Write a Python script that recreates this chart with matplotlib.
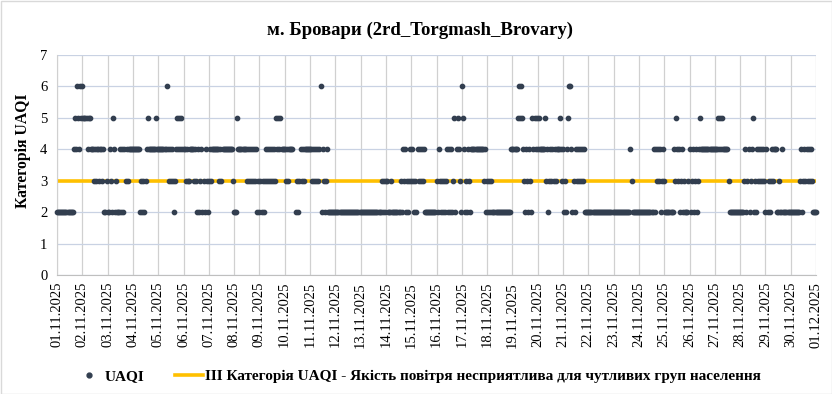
import numpy as np
import matplotlib
matplotlib.use("Agg")
import matplotlib.pyplot as plt
from matplotlib.lines import Line2D
from matplotlib.patches import Rectangle

# ---------------- data: hourly UAQI category per day (one char per hour, '.' = no data) ----------------
day_hourly_uaqi = [
    "222222222222222245465465",  # 01.11
    "655554554443434434434223",  # 02.11
    "224325423222424243434444",  # 03.11
    "444444423232345444444454",  # 04.11
    "444444446434343234545454",  # 05.11
    "443433444434324234232432",  # 06.11
    "343444444434344444444443",  # 07.11
    "222544444444343434343423",  # 08.11
    "232323434343434354545444",  # 09.11
    "43434444...2323434344444",  # 10.11
    "443434343462432342222222",  # 11.11
    "222222222222222222222222",  # 12.11
    "222222222222222222223232",  # 13.11
    "332223222222223243423234",  # 14.11
    "343232434343422222222222",  # 15.11
    "324323232342424235245432",  # 16.11
    "654232432444444444444342",  # 17.11
    "323232222222222222222224",  # 18.11
    "444445656543243243254545",  # 19.11
    "454444453423434343444543",  # 20.11
    "423245664232434343434222",  # 21.11
    "222222222222222222222222",  # 22.11
    "222222222222222243222222",  # 23.11
    "222222222222224243434234",  # 24.11
    "322222222435434234232223",  # 25.11
    "423423423454444444444444",  # 26.11
    "444545454444432222222222",  # 27.11
    "222234234234523243434343",  # 28.11
    "242323434442232242222222",  # 29.11
    "222222222342343434343222",  # 30.11
    "2",                         # 01.12 00:00
]
threshold_value = 3
day_labels = ["%02d.11.2025" % d for d in range(1, 31)] + ["01.12.2025"]

title_text = "м. Бровари (2rd_Torgmash_Brovary)"
ylabel_text = "Категорія UAQI"
series_label = "UAQI"
threshold_label = "III Категорія UAQI - Якість повітря несприятлива для чутливих груп населення"

# ---------------- expand into hourly series ----------------
uaqi = np.array([np.nan if c == '.' else float(c)
                 for day in day_hourly_uaqi for c in day])
hours = np.arange(len(uaqi))
total_hours = 24 * (len(day_labels) - 1)

# ---------------- plot ----------------
plt.rcParams['font.family'] = ['Liberation Serif', 'DejaVu Serif']
dot_color = '#323E4F'
line_color = '#FFC000'

fig = plt.figure(figsize=(8.32, 3.94), dpi=100)
ax = fig.add_axes([57 / 832, 1 - 275 / 394, (816 - 57) / 832, (275 - 55) / 394])

ax.axhline(threshold_value, color=line_color, lw=2.6, zorder=2)
ax.plot(hours, uaqi, linestyle='none', marker='o', markersize=3.1,
        color=dot_color, zorder=3, clip_on=False)

ax.set_xlim(0, total_hours)
ax.set_ylim(0, 7)
ax.set_yticks(range(0, 8))
ax.set_xticks(np.arange(0, total_hours + 1, 24))
ax.set_xticklabels(day_labels, rotation=90, fontsize=10.5)
ax.tick_params(axis='y', labelsize=10.5, length=0, pad=7)
ax.tick_params(axis='x', length=0, pad=5)

ax.grid(axis='y', color='#C9D2E3', lw=0.9, zorder=0)
ax.grid(axis='x', color='#D0D0D0', lw=0.9, zorder=0)
ax.set_axisbelow(True)
for s in ['top', 'right']:
    ax.spines[s].set_visible(False)
ax.spines['left'].set_color('#D0D0D0')
ax.spines['bottom'].set_color('#BFBFBF')

fig.text(420 / 832, 1 - 30 / 394, title_text, ha='center', va='center',
         fontsize=13.5, fontweight='bold')
fig.text(23 / 832, 1 - 151 / 394, ylabel_text, ha='center', va='center',
         rotation=90, fontsize=11.3, fontweight='bold')

handles = [
    Line2D([], [], linestyle='none', marker='o', markersize=3.5, color=dot_color),
    Line2D([], [], color=line_color, lw=2.6),
]
fig.legend(handles, [series_label, threshold_label], loc='center',
           bbox_to_anchor=(418 / 832, 1 - 376 / 394), ncol=2, frameon=False,
           prop={'weight': 'bold', 'size': 11}, handlelength=1.8,
           columnspacing=2.0, handletextpad=0.15)

fig.add_artist(Rectangle((0.5 / 832, 0.5 / 394), 831 / 832, 393 / 394,
                         transform=fig.transFigure, fill=False,
                         edgecolor='#D9D9D9', lw=1))

fig.savefig('out.png', dpi=100)
